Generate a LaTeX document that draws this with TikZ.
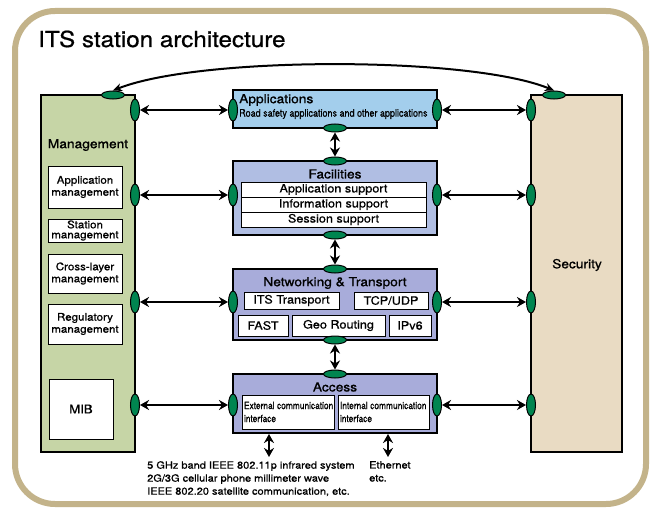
\documentclass[tikz,border=0pt]{standalone}
\usepackage{fontspec}
\setmainfont{TeX Gyre Heros}[FakeStretch=1.1, FakeBold=0.8]
\usetikzlibrary{shapes.geometric, arrows.meta, positioning}

\definecolor{frametan}{RGB}{195,179,138}
\definecolor{mgmtgreen}{RGB}{198,213,166}
\definecolor{secbeige}{RGB}{233,219,195}
\definecolor{appblue}{RGB}{163,206,236}
\definecolor{facblue}{RGB}{176,190,227}
\definecolor{netblue}{RGB}{168,172,218}
\definecolor{portgreen}{RGB}{0,133,80}

\newcommand{\condtext}[1]{\scalebox{0.76}[1]{#1}}

\begin{document}
\begin{tikzpicture}[x=1pt, y=-1pt,
    layer/.style={
        rectangle, draw=black, line width=1.1pt,
        inner sep=0pt
    },
    subbox/.style={
        rectangle, draw=black, line width=1pt, fill=white,
        inner sep=0pt, font=\fontsize{11.5}{13}\selectfont
    },
    mgmtbox/.style={
        rectangle, draw=black, line width=1pt, fill=white,
        inner sep=0pt, minimum width=74pt, align=center,
        font=\fontsize{10.5}{12}\selectfont
    },
    ltitle/.style={font=\fontsize{12.5}{14}\selectfont, inner sep=0pt},
    vport/.style={
        ellipse, draw=black, line width=1pt, fill=portgreen,
        inner sep=0pt, minimum width=9pt, minimum height=22pt
    },
    hport/.style={
        ellipse, draw=black, line width=1pt, fill=portgreen,
        inner sep=0pt, minimum width=23pt, minimum height=8pt
    },
    biarrow/.style={{Stealth[length=9pt,width=10pt]}-{Stealth[length=9pt,width=10pt]}, line width=2.4pt},
    note/.style={font=\fontsize{10}{13}\selectfont, align=left, inner sep=0pt},
]

\useasboundingbox (0,0) rectangle (656,511);

% Cornice
\draw[frametan, line width=6pt, rounded corners=40pt] (15,11) rectangle (646,504);
\node[anchor=base west, inner sep=0pt, font=\fontsize{22}{26}\selectfont] (title) at (38,47)
    {ITS station architecture};

% Blocchi laterali
\node[layer, fill=mgmtgreen, minimum width=94pt, minimum height=357pt] (mgmt) at (88,273.5) {};
\node[layer, fill=secbeige, minimum width=91pt, minimum height=357pt] (sec) at (576.5,273.5) {};
\node[ltitle] (mgmtlabel) at (88,145) {Management};
\node[ltitle] (seclabel) at (577,265) {Security};

% Management
\node[mgmtbox, minimum height=42pt] (mapp) at (85,187) {Application\\management};
\node[mgmtbox, minimum height=23pt, font=\fontsize{10.5}{10}\selectfont] (msta) at (85,230.5) {Station\\management};
\node[mgmtbox, minimum height=39pt] (mcro) at (85,273.5) {Cross-layer\\management};
\node[mgmtbox, minimum height=40pt] (mreg) at (85,324) {Regulatory\\management};
\node[mgmtbox, minimum width=64pt, minimum height=60pt, font=\fontsize{12}{14}\selectfont] (mmib) at (81,409) {MIB};

% Livelli
\node[layer, fill=appblue, minimum width=204pt, minimum height=38pt] (app) at (335,109) {};
\node[layer, fill=facblue, minimum width=204pt, minimum height=74pt] (fac) at (335,198) {};
\node[layer, fill=netblue, minimum width=204pt, minimum height=71pt] (net) at (335,304.5) {};
\node[layer, fill=netblue, minimum width=204pt, minimum height=59pt] (acc) at (335,403.5) {};

% Applications
\node[ltitle, anchor=west] (apptitle) at (239,100) {Applications};
\node[anchor=west, inner sep=0pt, font=\fontsize{10.5}{12}\selectfont] (apptext) at (239,114)
    {\scalebox{0.78}[1]{Road safety applications and other applications}};

% Facilities
\node[ltitle] (factitle) at (335,174) {Facilities};
\node[subbox, minimum width=185pt, minimum height=15pt] (fapp) at (333.5,189.5) {Application support};
\node[subbox, minimum width=185pt, minimum height=15pt] (finf) at (333.5,204.5) {Information support};
\node[subbox, minimum width=185pt, minimum height=15pt] (fses) at (333.5,219.5) {Session support};

% Networking & Transport
\node[ltitle] (nettitle) at (335,283) {Networking \& Transport};
\node[subbox, minimum width=95pt, minimum height=17pt] (nits) at (291.5,300.5) {ITS Transport};
\node[subbox, minimum width=74pt, minimum height=17pt] (ntcp) at (391,300.5) {TCP/UDP};
\node[subbox, minimum width=50pt, minimum height=21pt] (nfast) at (263,325.5) {FAST};
\node[subbox, minimum width=93pt, minimum height=21pt] (ngeo) at (338.5,325.5) {Geo Routing};
\node[subbox, minimum width=42pt, minimum height=21pt] (nipv) at (410,325.5) {IPv6};

% Access
\node[ltitle] (acctitle) at (335,387) {Access};
\node[subbox, minimum width=92pt, minimum height=34pt, text width=88pt, align=left,
    font=\fontsize{10}{13}\selectfont] (aext) at (288,412)
    {\condtext{External communication}\\\condtext{interface}};
\node[subbox, minimum width=91pt, minimum height=34pt, text width=87pt, align=left,
    font=\fontsize{10}{13}\selectfont] (aint) at (383.5,412)
    {\condtext{Internal communication}\\\condtext{interface}};

% Punti di accesso
\node[hport] (mtop) at (113,95) {};
\node[hport] (stop) at (554,95) {};

\node[vport] (mapp p) at (135,110) {};
\node[vport] (mfac p) at (135,195) {};
\node[vport] (mnet p) at (135,302) {};
\node[vport] (macc p) at (135,405) {};

\node[vport] (sapp p) at (531,110) {};
\node[vport] (sfac p) at (531,195) {};
\node[vport] (snet p) at (531,302) {};
\node[vport] (sacc p) at (531,405) {};

\node[vport] (appL) at (233,110) {};
\node[vport] (appR) at (437,110) {};
\node[vport] (facL) at (233,195) {};
\node[vport] (facR) at (437,195) {};
\node[vport] (netL) at (233,302) {};
\node[vport] (netR) at (437,302) {};
\node[vport] (accL) at (233,405) {};
\node[vport] (accR) at (437,405) {};

\node[hport] (appB) at (335,128) {};
\node[hport] (facT) at (335,161) {};
\node[hport] (facB) at (335,235) {};
\node[hport] (netT) at (335,269) {};
\node[hport] (netB) at (335,340) {};
\node[hport] (accT) at (335,374) {};

% Frecce orizzontali
\draw[biarrow] (mapp p.east) -- (appL.west);
\draw[biarrow] (mfac p.east) -- (facL.west);
\draw[biarrow] (mnet p.east) -- (netL.west);
\draw[biarrow] (macc p.east) -- (accL.west);
\draw[biarrow] (appR.east) -- (sapp p.west);
\draw[biarrow] (facR.east) -- (sfac p.west);
\draw[biarrow] (netR.east) -- (snet p.west);
\draw[biarrow] (accR.east) -- (sacc p.west);

% Frecce verticali
\draw[biarrow] (appB.south) -- (facT.north);
\draw[biarrow] (facB.south) -- (netT.north);
\draw[biarrow] (netB.south) -- (accT.north);

% Freccia Management - Security
\draw[{Stealth[length=9pt,width=8pt]}-{Stealth[length=9pt,width=8pt]}, line width=2pt]
    (mtop.north) .. controls (200,56) and (470,56) .. (stop.north);

% Interfacce esterne
\coordinate (extA) at (269,434);
\coordinate (extB) at (269,457);
\coordinate (intA) at (388,434);
\coordinate (intB) at (388,457);
\draw[biarrow] (extA) -- (extB);
\draw[biarrow] (intA) -- (intB);

\node[note, anchor=north west] (extnote) at (147,461)
    {5 GHz band IEEE 802.11p infrared system\\
     2G/3G cellular phone millimeter wave\\
     IEEE 802.20 satellite communication, etc.};
\node[note, anchor=north west] (intnote) at (369,461) {Ethernet\\etc.};

\end{tikzpicture}
\end{document}
